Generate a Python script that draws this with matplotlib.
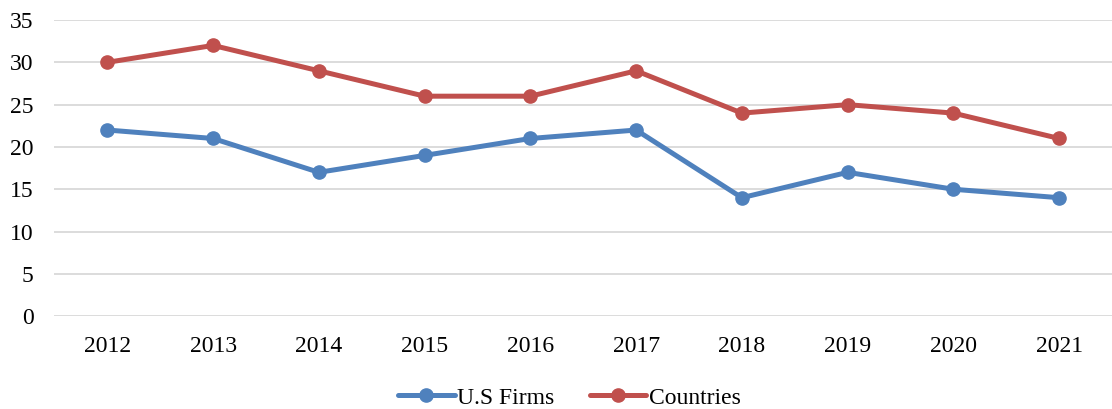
import matplotlib
matplotlib.use("Agg")
import matplotlib.pyplot as plt

years = ["2012", "2013", "2014", "2015", "2016", "2017", "2018", "2019", "2020", "2021"]
us_firms = [22, 21, 17, 19, 21, 22, 14, 17, 15, 14]
countries = [30, 32, 29, 26, 26, 29, 24, 25, 24, 21]
yticks = [0, 5, 10, 15, 20, 25, 30, 35]

plt.rcParams['font.family'] = ['Liberation Serif', 'DejaVu Serif']

fig = plt.figure(figsize=(11.12, 4.09), dpi=100)
ax = fig.add_axes([0.049, 0.227, 0.951, 0.724])

x = list(range(len(years)))
ax.plot(x, us_firms, color='#4F81BD', lw=3.6, marker='o', ms=9.5, label='U.S Firms', solid_capstyle='round')
ax.plot(x, countries, color='#C0504D', lw=3.6, marker='o', ms=9.5, label='Countries', solid_capstyle='round')

ax.set_xlim(-0.5, len(years) - 0.5)
ax.set_ylim(0, 35)
ax.set_yticks(yticks)
ax.set_xticks(x)
ax.set_xticklabels(years)
ax.grid(axis='y', color='#D9D9D9', lw=1.3)
ax.set_axisbelow(True)
for s in ax.spines.values():
    s.set_visible(False)
ax.tick_params(axis='both', length=0, labelsize=17, colors='black')
ax.tick_params(axis='y', pad=15)
ax.tick_params(axis='x', pad=14)

leg = fig.legend(*ax.get_legend_handles_labels(), loc='center', bbox_to_anchor=(0.512, 0.027),
                 ncol=2, frameon=False, fontsize=17, handlelength=2.4,
                 columnspacing=1.5, handletextpad=0.1, borderpad=0.2)

fig.savefig("out.png", dpi=100)
